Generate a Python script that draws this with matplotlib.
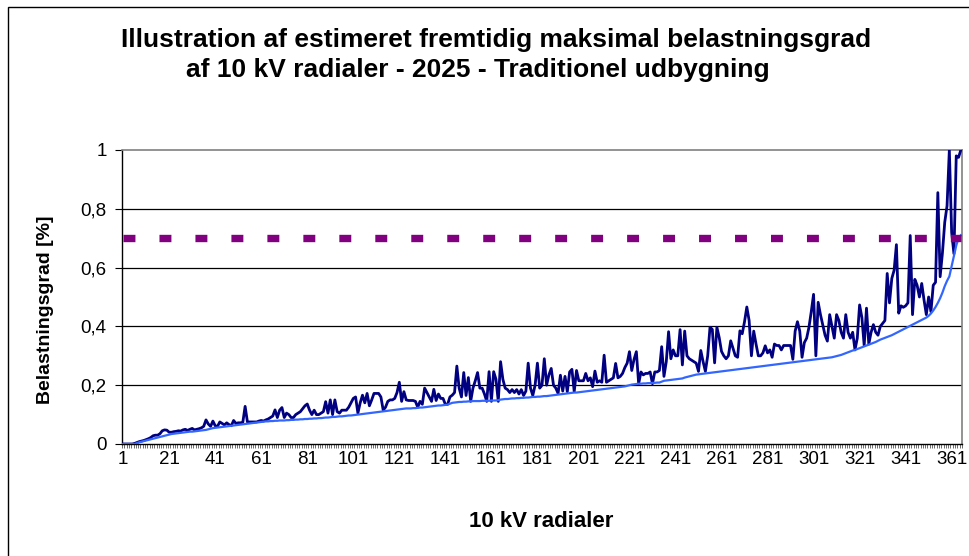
import matplotlib
matplotlib.use("Agg")
import matplotlib.pyplot as plt
from matplotlib.patches import Rectangle

plt.rcParams['font.family'] = ['Liberation Sans', 'DejaVu Sans']
plt.rcParams['lines.scale_dashes'] = False

# estimeret maksimal belastningsgrad pr. radial (1..365)
radial_max = [
    0, 0, 0, 0, 0, 0.002, 0.005, 0.008, 0.01, 0.012,
    0.015, 0.018, 0.022, 0.028, 0.03, 0.03, 0.035, 0.045, 0.048, 0.047,
    0.04, 0.04, 0.042, 0.043, 0.045, 0.044, 0.048, 0.05, 0.046, 0.05,
    0.053, 0.048, 0.05, 0.052, 0.055, 0.06, 0.082, 0.068, 0.06, 0.078,
    0.062, 0.06, 0.075, 0.07, 0.065, 0.072, 0.066, 0.062, 0.08, 0.07,
    0.072, 0.072, 0.074, 0.128, 0.075, 0.075, 0.075, 0.075, 0.075, 0.078,
    0.08, 0.078, 0.082, 0.085, 0.09, 0.095, 0.116, 0.09, 0.115, 0.124,
    0.09, 0.105, 0.1, 0.09, 0.09, 0.1, 0.105, 0.11, 0.12, 0.13,
    0.136, 0.115, 0.1, 0.115, 0.1, 0.1, 0.105, 0.11, 0.144, 0.105,
    0.15, 0.1, 0.15, 0.11, 0.105, 0.115, 0.115, 0.115, 0.125, 0.14,
    0.155, 0.16, 0.105, 0.14, 0.166, 0.14, 0.172, 0.13, 0.15, 0.172,
    0.172, 0.172, 0.16, 0.115, 0.125, 0.145, 0.15, 0.15, 0.155, 0.175,
    0.21, 0.145, 0.178, 0.15, 0.148, 0.148, 0.148, 0.145, 0.125, 0.145,
    0.135, 0.19, 0.175, 0.16, 0.145, 0.186, 0.148, 0.17, 0.155, 0.155,
    0.135, 0.135, 0.16, 0.166, 0.175, 0.265, 0.19, 0.16, 0.243, 0.165,
    0.226, 0.145, 0.19, 0.215, 0.243, 0.19, 0.19, 0.17, 0.145, 0.246,
    0.145, 0.246, 0.22, 0.145, 0.28, 0.22, 0.19, 0.185, 0.175, 0.185,
    0.175, 0.185, 0.17, 0.185, 0.165, 0.18, 0.275, 0.19, 0.165, 0.2,
    0.275, 0.19, 0.2, 0.29, 0.2, 0.235, 0.257, 0.2, 0.19, 0.172,
    0.234, 0.18, 0.23, 0.178, 0.245, 0.254, 0.178, 0.25, 0.215, 0.215,
    0.215, 0.24, 0.215, 0.225, 0.195, 0.248, 0.21, 0.215, 0.21, 0.302,
    0.21, 0.215, 0.22, 0.225, 0.274, 0.225, 0.23, 0.24, 0.26, 0.275,
    0.314, 0.25, 0.288, 0.314, 0.205, 0.245, 0.235, 0.24, 0.24, 0.245,
    0.205, 0.245, 0.245, 0.25, 0.331, 0.23, 0.28, 0.382, 0.29, 0.32,
    0.3, 0.3, 0.389, 0.269, 0.384, 0.3, 0.29, 0.285, 0.28, 0.275,
    0.247, 0.318, 0.28, 0.247, 0.3, 0.397, 0.39, 0.276, 0.397, 0.362,
    0.315, 0.3, 0.29, 0.3, 0.351, 0.325, 0.3, 0.295, 0.385, 0.375,
    0.416, 0.466, 0.42, 0.3, 0.384, 0.34, 0.3, 0.3, 0.31, 0.334,
    0.31, 0.32, 0.295, 0.34, 0.335, 0.335, 0.32, 0.335, 0.335, 0.335,
    0.335, 0.288, 0.384, 0.416, 0.384, 0.295, 0.345, 0.36, 0.397, 0.45,
    0.509, 0.3, 0.482, 0.44, 0.405, 0.37, 0.35, 0.44, 0.4, 0.36,
    0.44, 0.42, 0.38, 0.36, 0.44, 0.38, 0.36, 0.38, 0.32, 0.36,
    0.473, 0.43, 0.335, 0.462, 0.34, 0.38, 0.406, 0.38, 0.37, 0.4,
    0.41, 0.42, 0.58, 0.48, 0.563, 0.591, 0.678, 0.445, 0.47, 0.465,
    0.47, 0.48, 0.709, 0.44, 0.56, 0.54, 0.5, 0.546, 0.49, 0.44,
    0.5, 0.45, 0.54, 0.55, 0.855, 0.569, 0.65, 0.754, 0.81, 1.0,
    0.72, 0.647, 0.98, 0.975, 1.0,
]

# sorteret belastningsgrad (lyseblaa kurve)
radial_sorted = [
    0, 0, 0, 0, 0, 0, 0.003, 0.006, 0.008, 0.01,
    0.012, 0.014, 0.016, 0.018, 0.02, 0.022, 0.024, 0.026, 0.028, 0.03,
    0.032, 0.034, 0.035, 0.036, 0.037, 0.038, 0.039, 0.04, 0.041, 0.042,
    0.042, 0.043, 0.044, 0.045, 0.046, 0.047, 0.048, 0.05, 0.052, 0.054,
    0.055, 0.056, 0.057, 0.058, 0.059, 0.06, 0.061, 0.062, 0.063, 0.064,
    0.065, 0.066, 0.067, 0.068, 0.069, 0.07, 0.071, 0.072, 0.073, 0.074,
    0.075, 0.076, 0.077, 0.077, 0.078, 0.078, 0.079, 0.079, 0.08, 0.08,
    0.08, 0.081, 0.081, 0.082, 0.082, 0.083, 0.083, 0.084, 0.084, 0.085,
    0.085, 0.086, 0.086, 0.087, 0.087, 0.088, 0.088, 0.089, 0.09, 0.09,
    0.091, 0.092, 0.092, 0.093, 0.094, 0.094, 0.095, 0.096, 0.097, 0.097,
    0.098, 0.099, 0.1, 0.101, 0.102, 0.103, 0.104, 0.105, 0.106, 0.107,
    0.108, 0.109, 0.11, 0.111, 0.112, 0.113, 0.114, 0.115, 0.116, 0.117,
    0.118, 0.119, 0.12, 0.121, 0.121, 0.121, 0.122, 0.122, 0.123, 0.124,
    0.124, 0.125, 0.126, 0.127, 0.128, 0.129, 0.13, 0.131, 0.131, 0.132,
    0.133, 0.134, 0.137, 0.14, 0.141, 0.142, 0.143, 0.143, 0.144, 0.144,
    0.145, 0.145, 0.146, 0.146, 0.146, 0.146, 0.147, 0.147, 0.147, 0.147,
    0.148, 0.148, 0.148, 0.149, 0.151, 0.152, 0.153, 0.153, 0.154, 0.155,
    0.155, 0.156, 0.156, 0.157, 0.157, 0.158, 0.158, 0.159, 0.16, 0.16,
    0.161, 0.161, 0.162, 0.163, 0.163, 0.164, 0.165, 0.166, 0.167, 0.168,
    0.169, 0.17, 0.171, 0.172, 0.173, 0.174, 0.175, 0.175, 0.176, 0.177,
    0.178, 0.179, 0.18, 0.181, 0.182, 0.183, 0.184, 0.185, 0.186, 0.187,
    0.188, 0.189, 0.19, 0.191, 0.192, 0.193, 0.194, 0.195, 0.196, 0.198,
    0.2, 0.202, 0.203, 0.204, 0.205, 0.205, 0.206, 0.206, 0.207, 0.207,
    0.208, 0.208, 0.209, 0.209, 0.212, 0.215, 0.216, 0.217, 0.218, 0.219,
    0.22, 0.221, 0.222, 0.223, 0.226, 0.228, 0.23, 0.232, 0.234, 0.236,
    0.237, 0.238, 0.239, 0.24, 0.241, 0.242, 0.243, 0.244, 0.245, 0.246,
    0.247, 0.248, 0.249, 0.25, 0.251, 0.252, 0.253, 0.254, 0.255, 0.256,
    0.257, 0.258, 0.259, 0.26, 0.261, 0.262, 0.263, 0.264, 0.265, 0.266,
    0.267, 0.268, 0.269, 0.27, 0.271, 0.272, 0.273, 0.274, 0.275, 0.276,
    0.277, 0.278, 0.279, 0.28, 0.281, 0.282, 0.283, 0.284, 0.285, 0.286,
    0.287, 0.288, 0.289, 0.29, 0.291, 0.292, 0.293, 0.294, 0.295, 0.297,
    0.299, 0.301, 0.303, 0.306, 0.309, 0.312, 0.315, 0.318, 0.32, 0.323,
    0.326, 0.329, 0.332, 0.335, 0.338, 0.341, 0.344, 0.347, 0.351, 0.355,
    0.358, 0.361, 0.364, 0.367, 0.37, 0.374, 0.378, 0.382, 0.386, 0.39,
    0.394, 0.398, 0.402, 0.406, 0.41, 0.414, 0.418, 0.422, 0.426, 0.43,
    0.436, 0.444, 0.454, 0.466, 0.48, 0.496, 0.515, 0.537, 0.555, 0.57,
    0.605, 0.64, 0.675, 0.7, 0.71,
]

limit = 0.7
radial_nr = list(range(1, len(radial_max) + 1))
x_labels = list(range(1, 362, 20))
y_ticks = [0, 0.2, 0.4, 0.6, 0.8, 1.0]
y_labels = ['0', '0,2', '0,4', '0,6', '0,8', '1']

W, H = 969, 556
fig = plt.figure(figsize=(W / 100, H / 100), dpi=100)
ax = fig.add_axes([122 / W, 1 - 444 / H, 840 / W, 294 / H])

ax.plot(radial_nr, radial_max, color='#000080', lw=2.0, zorder=3)
ax.plot(radial_nr, radial_sorted, color='#3366ff', lw=1.6, zorder=4)
lim_line, = ax.plot(radial_nr, [limit] * len(radial_nr), color='#800080',
                    lw=5.3, solid_capstyle='butt', dash_capstyle='butt', zorder=5)
lim_line.set_dashes((8.6, 17.3))

ax.set_xlim(0.5, len(radial_nr) + 0.5)
ax.set_ylim(0, 1)
ax.set_yticks(y_ticks)
ax.set_yticklabels(y_labels, fontsize=13.5)
ax.set_xticks(x_labels)
ax.set_xticklabels([str(v) for v in x_labels], fontsize=13.5)
ax.set_xticks([v + 0.5 for v in range(0, len(radial_nr) + 1)], minor=True)
ax.tick_params(axis='x', which='major', length=0, pad=5)
ax.tick_params(axis='x', which='minor', length=3, width=0.6, color='#555555', direction='out')
ax.tick_params(axis='y', length=5, width=0.8, pad=6)

for v in y_ticks[1:-1]:
    ax.axhline(v, color='black', lw=0.9, zorder=1)
ax.spines['top'].set_color('#808080')
ax.spines['right'].set_color('#808080')
ax.spines['top'].set_linewidth(1.2)
ax.spines['right'].set_linewidth(1.2)
ax.spines['left'].set_linewidth(1.0)
ax.spines['bottom'].set_linewidth(1.0)

fig.text(496 / W, 1 - 47 / H, 'Illustration af estimeret fremtidig maksimal belastningsgrad',
         ha='center', va='baseline', fontsize=19, fontweight='bold')
fig.text(478 / W, 1 - 77 / H, 'af 10 kV radialer - 2025 - Traditionel udbygning',
         ha='center', va='baseline', fontsize=19, fontweight='bold')
fig.text(541 / W, 1 - 527 / H, '10 kV radialer', ha='center', va='baseline',
         fontsize=16, fontweight='bold')
fig.text(46 / W, 1 - 310 / H, 'Belastningsgrad [%]', ha='center', va='center',
         rotation=90, fontsize=14, fontweight='bold')

# ramme om diagrammet (kun venstre og top synlige i udsnittet)
fig.patches.append(Rectangle((8 / W, -0.05), 1.1, 1.05 - 7 / H, transform=fig.transFigure,
                             fill=False, edgecolor='black', lw=1.0))

fig.savefig('out.png', dpi=100)
